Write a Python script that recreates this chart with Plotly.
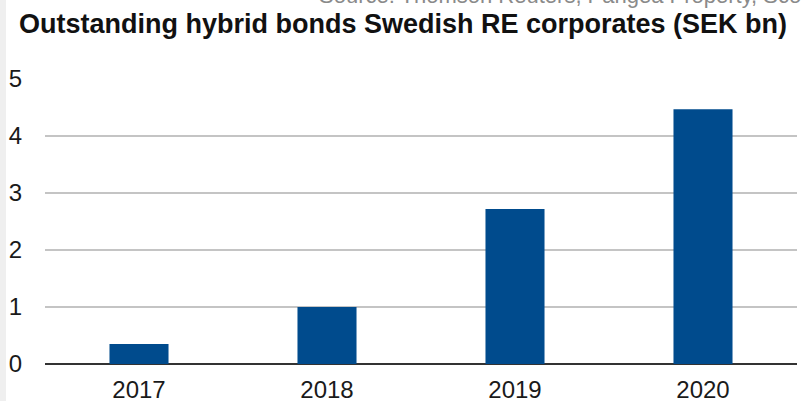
import plotly.graph_objects as go

years = ["2017", "2018", "2019", "2020"]
outstanding = [0.35, 1.0, 2.72, 4.47]
y_ticks = [0, 1, 2, 3, 4, 5]

W, H = 801, 401
ml, mr, mt, mb = 45, 4, 79, 37
pw = W - ml - mr
ph = H - mt - mb

fig = go.Figure()
fig.add_trace(go.Bar(x=years, y=outstanding, marker=dict(color="#004b8d", line=dict(width=0))))

fig.update_layout(
    width=W, height=H,
    margin=dict(l=ml, r=mr, t=mt, b=mb, pad=0),
    paper_bgcolor="white", plot_bgcolor="white",
    bargap=0.686,
    showlegend=False,
    font=dict(family="Liberation Sans, Arial, sans-serif", color="#1a1a1a"),
    title=dict(
        text="<b>Outstanding hybrid bonds Swedish RE corporates (SEK bn)</b>",
        x=19 / W, xref="container", xanchor="left",
        y=1 - 24 / H, yref="container", yanchor="middle",
        font=dict(size=27, color="#111111", family="Liberation Sans, Arial, sans-serif"),
        automargin=False,
    ),
    xaxis=dict(
        showgrid=False, showline=False, ticks="",
        tickfont=dict(size=24, color="#1a1a1a"),
        ticklabelstandoff=9, automargin=False,
    ),
    yaxis=dict(
        range=[0, 5], tickvals=y_ticks,
        showgrid=True, gridcolor="#c4c4c4", gridwidth=2,
        zeroline=True, zerolinecolor="#333333", zerolinewidth=2,
        showline=False, ticks="",
        tickfont=dict(size=24, color="#1a1a1a"),
        ticklabelstandoff=22, automargin=False,
    ),
    shapes=[dict(type="rect", xref="paper", yref="paper",
                 x0=-ml / pw, x1=(6 - ml) / pw, y0=-mb / ph, y1=1 + mt / ph,
                 fillcolor="#efefef", line=dict(width=0), layer="below")],
    annotations=[dict(
        text="Source: Thomson Reuters, Pangea Property, Scope",
        xref="paper", yref="paper",
        x=(317 - ml) / pw, xanchor="left",
        y=1 + (mt - 10) / ph, yanchor="bottom",
        showarrow=False,
        font=dict(size=22, color="#8a8a8a", family="Liberation Sans, Arial, sans-serif"),
    )],
)

fig.write_html("out.html", config={"displayModeBar": False},
               post_script="document.body.style.margin='0px';document.body.style.overflow='hidden';")
